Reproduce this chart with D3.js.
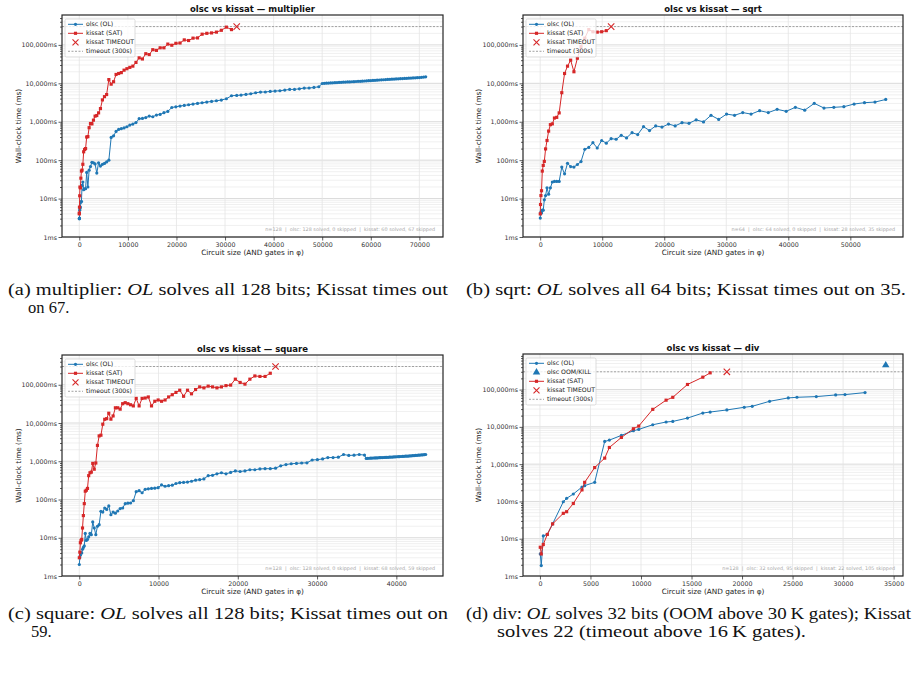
<!DOCTYPE html>
<html>
<head>
<meta charset="utf-8">
<script src="https://cdn.jsdelivr.net/npm/d3@7"></script>
<style>
body { margin: 0; background: #fff; }
svg text { font-family: "DejaVu Sans", sans-serif; }
.cap { font-family: "Liberation Serif", serif; fill: #111; }
</style>
</head>
<body>
<svg id="fig" width="916" height="678"></svg>
<script>
// ---- multiplier (a) ----
var mulGates = [5, 9, 36, 81, 144, 225, 324, 441, 576, 729, 900, 1089, 1296, 1521, 1764, 2025, 2304, 2601, 2916, 3249,
  3600, 3969, 4356, 4761, 5184, 5625, 6084, 6561, 7056, 7569, 8100, 8649, 9216, 9801, 10404, 11025, 11664, 12321, 12996, 13689,
  14400, 15129, 15876, 16641, 17424, 18225, 19044, 19881, 20736, 21609, 22500, 23409, 24336, 25281, 26244, 27225, 28224, 29241, 30276, 31329,
  32400, 33300, 34300, 35300, 36300, 37300, 38300, 39300, 40300, 41300, 42300, 43300, 44300, 45300, 46300, 47300, 48300, 49300,
  50000, 50430, 50870, 51300, 51740, 52170, 52610, 53040, 53480, 53910, 54350, 54780, 55220, 55650, 56090, 56520, 56960, 57390, 57830, 58260,
  58700, 59130, 59570, 60000, 60440, 60870, 61310, 61740, 62180, 62610, 63050, 63480, 63920, 64350, 64790, 65220, 65660, 66090, 66530, 66960,
  67400, 67830, 68270, 68700, 69140, 69570, 70010, 70440, 70880, 71300];
var mulOlsc = [3.0, 3.0, 3.1, 5, 5.5, 6, 8, 8.5, 22, 27, 17, 18, 18, 48, 20, 55, 68, 88, 85, 80,
  46, 85, 70, 78, 82, 90, 100, 390, 430, 560, 630, 660, 690, 740, 820, 870, 950, 1200, 1220, 1280,
  1400, 1350, 1490, 1550, 1720, 1860, 2350, 2450, 2560, 2660, 2770, 2880, 3000, 3120, 3250, 3380, 3520, 3660, 3970, 4750,
  4840, 4940, 5140, 5350, 5680, 5910, 5950, 6150, 6280, 6400, 6660, 6930, 6950, 7210, 7510, 7550, 7800, 8130,
  9900, 10000, 10100, 10150, 10250, 10300, 10400, 10450, 10550, 10600, 10700, 10750, 10850, 10900, 11000, 11050, 11150, 11250, 11300, 11400,
  11500, 11600, 11700, 11800, 11900, 12000, 12100, 12200, 12300, 12400, 12500, 12600, 12700, 12800, 12900, 13000, 13100, 13200, 13300, 13400,
  13500, 13600, 13700, 13800, 13900, 14000, 14150, 14300, 14500, 14800];
var mulKissat = [4.0, 4.2, 6.0, 11.8, 20, 19, 34, 52, 55, 78, 165, 190, 200, 400, 410, 700, 900, 880, 1100, 1400,
  1450, 1700, 2200, 3700, 4500, 5100, 12500, 9500, 11000, 17000, 18000, 19000, 22000, 24000, 26000, 28000, 35000, 46000, 43000, 59000,
  56000, 75000, 72000, 84000, 84000, 105000, 98000, 110000, 112000, 135000, 130000, 150000, 152000, 190000, 200000, 205000, 215000, 240000, 290000, 250000];

// ---- sqrt (b) ----
var sqrtGates = [14, 54, 122, 218, 340, 490, 666, 870, 1102, 1360, 1646, 1958, 2298, 2666, 3060, 3482, 3930, 4406, 4910, 5440,
  5998, 6582, 7194, 7834, 8500, 9194, 9914, 10662, 11438, 12240, 13070, 13926, 14810, 15722, 16660, 17626, 18618, 19638, 20686, 21760,
  22862, 23990, 25146, 26330, 27540, 28778, 30042, 31334, 32654, 34000, 35374, 36774, 38202, 39658, 41140, 42650, 44186, 45750, 47342, 48960,
  50606, 52278, 53978, 55706];
var sqrtOlsc = [3.1, 4, 4.5, 4.2, 5, 5, 9.3, 12, 19, 13, 19, 27, 28, 28, 28, 66, 44, 83, 68, 66,
  77, 92, 192, 215, 285, 207, 325, 277, 363, 350, 443, 380, 520, 463, 745, 590, 780, 725, 870, 780,
  945, 910, 1120, 990, 1470, 1150, 1580, 1470, 1730, 1580, 1940, 1730, 2100, 1870, 2370, 2000, 3010, 2270, 2370, 2460,
  2890, 3130, 3250, 3800];
var sqrtKissat = [4, 7, 12, 16, 52, 73, 93, 196, 325, 570, 840, 880, 1250, 1300, 1700, 5700, 18000, 28000, 40000, 20000,
  45000, 90000, 150000, 250000, 220000, 215000, 220000, 235000];

// ---- square (c) ----
var sqGates = [10, 73, 144, 225, 314, 413, 520, 637, 762, 897, 1040, 1193, 1354, 1525, 1704, 1893, 2090, 2297, 2512, 2737,
  2970, 3213, 3464, 3725, 3994, 4273, 4560, 4857, 5162, 5477, 5800, 6133, 6474, 6825, 7184, 7553, 7930, 8317, 8712, 9117,
  9530, 9953, 10384, 10825, 11274, 11733, 12200, 12677, 13162, 13657, 14160, 14673, 15194, 15725, 16264, 16813, 17370, 17937, 18512, 19097,
  19690, 20293, 20904, 21525, 22154, 22793, 23440, 24097, 24762,
  25420, 26080, 26740, 27400, 28060, 28720, 29380, 30040, 30700, 31360, 32020, 32680, 33340, 34000, 34660, 35320, 35980,
  36200, 36380, 36570, 36750, 36930, 37120, 37300, 37480, 37660, 37850, 38030, 38210, 38400, 38580, 38760, 38950, 39130, 39310, 39490, 39680,
  39860, 40040, 40230, 40410, 40590, 40780, 40960, 41140, 41330, 41510, 41690, 41870, 42060, 42240, 42420, 42610, 42790, 42970, 43160, 43340,
  43520, 43700];
var sqOlsc = [2.0, 3.0, 3.5, 4.0, 4.0, 5.0, 5.6, 6.1, 13, 8.5, 9.0, 10.5, 13, 12, 26, 18, 12, 20, 22, 49,
  47, 60, 55, 68, 40, 47, 44, 50, 58, 60, 78, 80, 81, 93, 160, 170, 150, 185, 190, 195,
  198, 204, 240, 222, 230, 237, 262, 275, 280, 285, 300, 320, 330, 345, 420, 430, 470, 500, 470, 510,
  560, 540, 560, 600, 600, 630, 640, 640, 660,
  760, 820, 860, 880, 900, 910, 1080, 1100, 1150, 1250, 1250, 1280, 1500, 1420, 1440, 1500, 1450,
  1180, 1190, 1200, 1205, 1210, 1215, 1220, 1225, 1230, 1240, 1245, 1250, 1255, 1260, 1265, 1270, 1280, 1285, 1290, 1300,
  1305, 1310, 1320, 1325, 1330, 1340, 1345, 1355, 1360, 1370, 1380, 1390, 1400, 1410, 1420, 1430, 1440, 1450, 1460, 1470,
  1485, 1500];
var sqKissat = [3, 4.2, 7.4, 8.5, 9, 18, 38, 78, 165, 175, 195, 420, 500, 520, 880, 620, 900, 2600, 4600, 4800,
  9300, 12500, 13000, 18000, 12600, 15300, 25000, 25000, 23000, 32000, 34000, 32000, 30000, 28000, 44000, 28000, 44000, 45000, 48000, 28000,
  37000, 40000, 37000, 40000, 48000, 55000, 63000, 72000, 50000, 72000, 58000, 75000, 88000, 83000, 92000, 88000, 83000, 88000, 95000, 98000,
  140000, 115000, 104000, 140000, 170000, 165000, 165000, 200000];

// ---- div (d) ----
var divGates = [33, 132, 330, 727, 1255, 2312, 2642, 3303, 4162, 4426, 5417, 6408, 6870, 8059, 9248, 9777, 11164, 12485, 13146, 14600,
  16119, 16845, 18497, 20214, 21007, 22725, 24574, 25433, 27349, 29265, 30189, 32171, 34219];
var divOlsc = [3.9, 1.9, 11.9, 13, 25, 98, 121, 158, 244, 265, 326, 4060, 4410, 5900, 7870, 8550, 11400, 13500, 14000, 17200,
  23500, 25000, 28400, 33500, 35600, 48500, 59700, 62200, 64800, 71800, 73300, 83000];
var divKissat = [5.9, 3.9, 7.0, 13, 25, 48, 53, 88, 204, 325, 810, 1450, 2800, 5200, 8900, 10500, 29500, 52000, 62000, 137000,
  215000, 281000];

var timeoutMs = 300000;
var oomMarkMs = 450000;
var yMajor = [1, 10, 100, 1000, 10000, 100000];

var blue = "#1f77b4", red = "#d62728";
var svg = d3.select("#fig");
svg.append("rect").attr("width", 916).attr("height", 678).attr("fill", "#fff");

function drawPanel(cfg) {
  var l = cfg.box[0], t = cfg.box[1], r = cfg.box[2], b = cfg.box[3];
  var g = svg.append("g");
  var ext = d3.extent(cfg.gates);
  var pad = (ext[1] - ext[0]) * 0.05;
  var x = d3.scaleLinear().domain([ext[0] - pad, ext[1] + pad]).range([l, r]);
  var y = d3.scaleLog().domain([1, cfg.ymax]).range([b, t]);

  var minors = [];
  yMajor.forEach(function (d) {
    for (var m = 2; m <= 9; m++) if (m * d < cfg.ymax) minors.push(m * d);
  });

  // grid
  g.append("g").selectAll("line").data(minors).join("line")
    .attr("x1", l).attr("x2", r).attr("y1", d => y(d)).attr("y2", d => y(d))
    .attr("stroke", "#e9e9e9").attr("stroke-width", 0.7);
  g.append("g").selectAll("line").data(yMajor).join("line")
    .attr("x1", l).attr("x2", r).attr("y1", d => y(d)).attr("y2", d => y(d))
    .attr("stroke", "#dadada").attr("stroke-width", 1);
  g.append("g").selectAll("line").data(cfg.xticks).join("line")
    .attr("x1", d => x(d)).attr("x2", d => x(d)).attr("y1", t).attr("y2", b)
    .attr("stroke", "#e4e4e4").attr("stroke-width", 0.8);

  // timeout line
  g.append("line").attr("x1", l).attr("x2", r).attr("y1", y(timeoutMs)).attr("y2", y(timeoutMs))
    .attr("stroke", "#8c8c8c").attr("stroke-width", 0.8).attr("stroke-dasharray", "2,1.5");

  var line = d3.line().x(d => x(d[0])).y(d => y(d[1]));
  var ol = cfg.olsc.map((v, i) => [cfg.gates[i], v]);
  var ks = cfg.kissat.map((v, i) => [cfg.gates[i], v]);

  g.append("path").datum(ol).attr("d", line).attr("fill", "none").attr("stroke", blue).attr("stroke-width", 1);
  g.append("g").selectAll("circle").data(ol).join("circle")
    .attr("cx", d => x(d[0])).attr("cy", d => y(d[1])).attr("r", 1.6).attr("fill", blue);

  if (cfg.oom) {
    g.append("path").attr("d", d3.symbol(d3.symbolTriangle, 24)())
      .attr("transform", "translate(" + x(cfg.gates[cfg.olsc.length]) + "," + y(oomMarkMs) + ")")
      .attr("fill", blue);
  }

  g.append("path").datum(ks).attr("d", line).attr("fill", "none").attr("stroke", red).attr("stroke-width", 1);
  g.append("g").selectAll("path").data(ks).join("path")
    .attr("d", d3.symbol(d3.symbolSquare, 10)())
    .attr("transform", d => "translate(" + x(d[0]) + "," + y(d[1]) + ")").attr("fill", red);

  // kissat timeout cross
  var tx = x(cfg.gates[cfg.kissat.length]), ty = y(timeoutMs);
  g.append("path").attr("d", "M-3.2,-3.2L3.2,3.2M-3.2,3.2L3.2,-3.2")
    .attr("transform", "translate(" + tx + "," + ty + ")").attr("stroke", red).attr("stroke-width", 1.1);

  // legend
  var items = [["olsc (OL)", "ol"]];
  if (cfg.oom) items.push(["olsc OOM/KILL", "oom"]);
  items.push(["kissat (SAT)", "ks"], ["kissat TIMEOUT", "x"], ["timeout (300s)", "to"]);
  var lx = l + 3, ly = t + 4;
  var lg = g.append("g");
  lg.append("rect").attr("x", lx).attr("y", ly).attr("width", 70).attr("height", items.length * 9 + 2)
    .attr("rx", 1.5).attr("fill", "#fff").attr("fill-opacity", 0.8).attr("stroke", "#cfcfcf").attr("stroke-width", 0.7);
  items.forEach(function (it, i) {
    var cy = ly + 5.3 + i * 9, mx = lx + 10.5;
    if (it[1] == "ol") {
      lg.append("line").attr("x1", lx + 3).attr("x2", lx + 18).attr("y1", cy).attr("y2", cy).attr("stroke", blue).attr("stroke-width", 1);
      lg.append("circle").attr("cx", mx).attr("cy", cy).attr("r", 1.6).attr("fill", blue);
    } else if (it[1] == "oom") {
      lg.append("path").attr("d", d3.symbol(d3.symbolTriangle, 24)()).attr("transform", "translate(" + mx + "," + cy + ")").attr("fill", blue);
    } else if (it[1] == "ks") {
      lg.append("line").attr("x1", lx + 3).attr("x2", lx + 18).attr("y1", cy).attr("y2", cy).attr("stroke", red).attr("stroke-width", 1);
      lg.append("path").attr("d", d3.symbol(d3.symbolSquare, 10)()).attr("transform", "translate(" + mx + "," + cy + ")").attr("fill", red);
    } else if (it[1] == "x") {
      lg.append("path").attr("d", "M-3,-3L3,3M-3,3L3,-3").attr("transform", "translate(" + mx + "," + cy + ")")
        .attr("stroke", red).attr("stroke-width", 1.1);
    } else {
      lg.append("line").attr("x1", lx + 3).attr("x2", lx + 18).attr("y1", cy).attr("y2", cy)
        .attr("stroke", "#8c8c8c").attr("stroke-width", 0.8).attr("stroke-dasharray", "2,1.5");
    }
    lg.append("text").attr("x", lx + 21).attr("y", cy).attr("dy", "0.35em").attr("font-size", 6.2).attr("fill", "#222").text(it[0]);
  });

  // annotation
  var n = cfg.n;
  var olFail = cfg.oom ? 1 : 0;
  var sp = "\u00a0\u00a0|\u00a0\u00a0";
  g.append("text").attr("x", r - 8).attr("y", b - 6.5).attr("text-anchor", "end")
    .attr("font-size", 4.9).attr("fill", "#a8a8a8")
    .text("n=" + n + sp + "olsc: " + cfg.olsc.length + " solved, " + (n - cfg.olsc.length - olFail) + " skipped" + sp +
      "kissat: " + cfg.kissat.length + " solved, " + (n - cfg.kissat.length - 1) + " skipped");

  // axes
  var xa = g.append("g").attr("transform", "translate(0," + b + ")")
    .call(d3.axisBottom(x).tickValues(cfg.xticks).tickFormat(d3.format("d")).tickSize(3.5).tickPadding(2));
  var ya = g.append("g").attr("transform", "translate(" + l + ",0)")
    .call(d3.axisLeft(y).tickValues(yMajor).tickFormat(d => d3.format(",")(d) + "ms").tickSize(3.5).tickPadding(1.5));
  var ym = g.append("g").attr("transform", "translate(" + l + ",0)")
    .call(d3.axisLeft(y).tickValues(minors).tickFormat("").tickSize(2));
  [xa, ya, ym].forEach(function (a) {
    a.select(".domain").remove();
    a.selectAll(".tick line").attr("stroke", "#333").attr("stroke-width", 0.8);
    a.selectAll(".tick text").attr("font-size", 6.3).attr("fill", "#333").attr("font-family", "DejaVu Sans");
  });

  g.append("rect").attr("x", l).attr("y", t).attr("width", r - l).attr("height", b - t)
    .attr("fill", "none").attr("stroke", "#262626").attr("stroke-width", 1.2);

  // titles
  g.append("text").attr("x", (l + r) / 2).attr("y", t - 3).attr("text-anchor", "middle")
    .attr("font-size", 8.5).attr("font-weight", "bold").attr("fill", "#111").text(cfg.title);
  g.append("text").attr("x", (l + r) / 2).attr("y", b + 17.5).attr("text-anchor", "middle")
    .attr("font-size", 7.3).attr("fill", "#222").text("Circuit size (AND gates in \u03c6)");
  g.append("text").attr("transform", "translate(" + cfg.ylabX + "," + (t + b) / 2 + ") rotate(-90)")
    .attr("text-anchor", "middle").attr("dy", "0.35em").attr("font-size", 7.3).attr("fill", "#222").text("Wall-clock time (ms)");
}

drawPanel({ box: [62, 15, 443, 237], ymax: 600000, n: 128, gates: mulGates, olsc: mulOlsc, kissat: mulKissat,
  xticks: [0, 10000, 20000, 30000, 40000, 50000, 60000, 70000], title: "olsc vs kissat \u2014 multiplier", ylabX: 18 });
drawPanel({ box: [523, 15, 903, 237], ymax: 600000, n: 64, gates: sqrtGates, olsc: sqrtOlsc, kissat: sqrtKissat,
  xticks: [0, 10000, 20000, 30000, 40000, 50000], title: "olsc vs kissat \u2014 sqrt", ylabX: 478 });
drawPanel({ box: [62, 355, 443, 576], ymax: 600000, n: 128, gates: sqGates, olsc: sqOlsc, kissat: sqKissat,
  xticks: [0, 10000, 20000, 30000, 40000], title: "olsc vs kissat \u2014 square", ylabX: 18 });
drawPanel({ box: [523, 354, 903, 576], ymax: 900000, n: 128, gates: divGates, olsc: divOlsc, kissat: divKissat, oom: true,
  xticks: [0, 5000, 10000, 15000, 20000, 25000, 30000, 35000], title: "olsc vs kissat \u2014 div", ylabX: 478 });

// captions
function caption(x, y, parts, width) {
  var t = svg.append("text").attr("class", "cap").attr("x", x).attr("y", y).attr("font-size", 16.5);
  parts.forEach(function (p) {
    t.append("tspan").attr("font-style", p[1] ? "italic" : null).text(p[0]);
  });
  if (width) t.attr("textLength", width).attr("lengthAdjust", "spacingAndGlyphs");
}
caption(8, 295, [["(a) multiplier: "], ["OL", 1], [" solves all 128 bits; Kissat times out"]], 440);
caption(28, 313, [["on 67."]]);
caption(466, 295, [["(b) sqrt: "], ["OL", 1], [" solves all 64 bits; Kissat times out on 35."]], 440);
caption(8, 619, [["(c) square: "], ["OL", 1], [" solves all 128 bits; Kissat times out on"]], 440);
caption(31, 637, [["59."]]);
caption(466, 619, [["(d) div: "], ["OL", 1], [" solves 32 bits (OOM above 30\u2009K gates); Kissat"]], 445);
caption(497, 637, [["solves 22 (timeout above 16\u2009K gates)."]], 309);
</script>
</body>
</html>
